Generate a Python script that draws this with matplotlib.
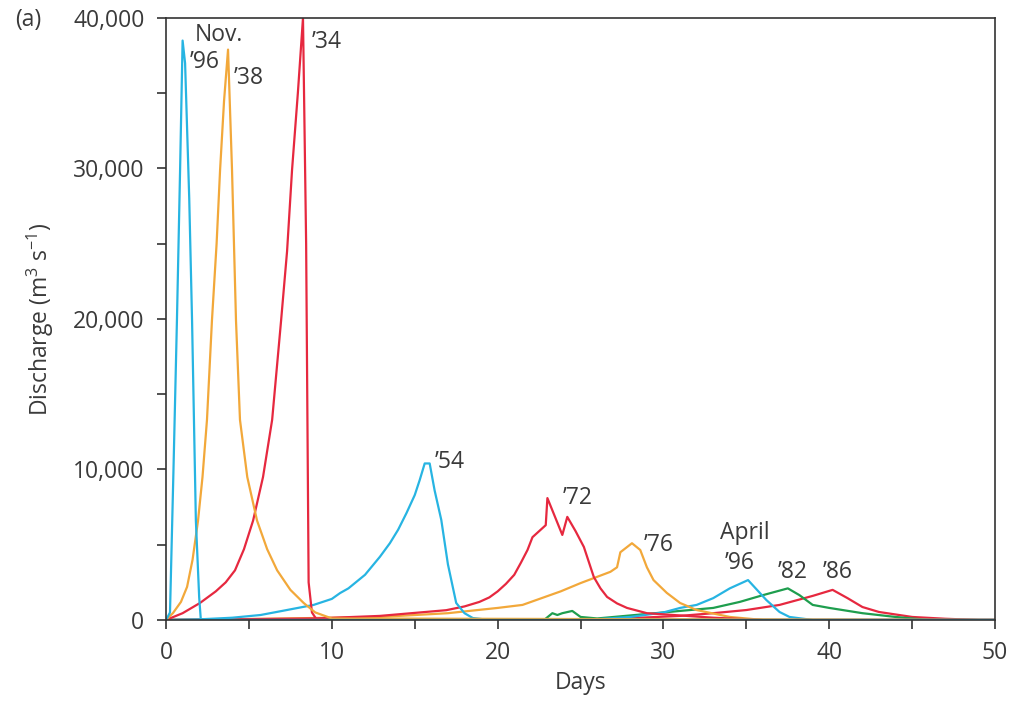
import matplotlib
matplotlib.use("Agg")
import matplotlib.pyplot as plt
from matplotlib.ticker import MultipleLocator, FuncFormatter

plt.rcParams['font.family'] = ['Open Sans', 'DejaVu Sans']
plt.rcParams['mathtext.default'] = 'regular'

# hydrographs: days, discharge (m3/s)
nov96_days = [0, 0.24, 0.45, 0.66, 0.85, 1.0, 1.15, 1.4, 1.57, 1.8, 2.0, 2.1, 50]
nov96_q = [0, 500, 10000, 20000, 30000, 38500, 37000, 28000, 19900, 6600, 1500, 0, 0]

y38_days = [0, 0.42, 0.9, 1.27, 1.6, 1.93, 2.2, 2.47, 2.77, 3.05, 3.26, 3.5, 3.74,
            3.98, 4.22, 4.46, 4.9, 5.49, 6.1, 6.7, 7.5, 8.3, 9, 10, 50]
y38_q = [0, 460, 1200, 2200, 4000, 6600, 9500, 13300, 19900, 25000, 29900, 34500, 37900,
         29900, 19900, 13300, 9500, 6600, 4700, 3300, 2000, 1130, 500, 100, 0]

y34_days = [0, 1, 2.05, 3, 3.6, 4.16, 4.7, 5.25, 5.85, 6.4, 6.94, 7.3, 7.6, 7.95, 8.26,
            8.45, 8.55, 8.6, 8.8, 9.1, 50]
y34_q = [0, 450, 1130, 1900, 2500, 3300, 4700, 6600, 9500, 13300, 19900, 24500, 29900, 35000, 40000,
         25000, 10000, 2500, 500, 0, 0]

y54_days = [0, 2, 4, 5.7, 7, 8.9, 10, 10.5, 11, 12, 12.9, 13.5, 14, 14.5, 15, 15.3, 15.6,
            15.9, 16.2, 16.6, 17.0, 17.5, 18.0, 18.5, 19.5, 50]
y54_q = [0, 40, 150, 330, 600, 1000, 1400, 1790, 2100, 3000, 4200, 5100, 6000, 7100, 8300,
         9300, 10400, 10400, 8600, 6650, 3700, 1130, 450, 130, 0, 0]

y72_days = [0, 9, 12.9, 16.9, 18.0, 18.9, 19.5, 20.0, 20.5, 21.0, 21.4, 21.8, 22.1, 22.9, 23.0,
            23.9, 24.2, 24.7, 25.2, 25.8, 26.2, 26.6, 27.2, 27.8, 29, 31, 33, 36, 50]
y72_q = [0, 100, 270, 650, 900, 1200, 1500, 1900, 2400, 3000, 3800, 4650, 5500, 6300, 8100,
         5650, 6850, 5900, 4850, 2850, 2100, 1530, 1100, 800, 450, 300, 150, 0, 0]

y76_days = [0, 6, 12.9, 17, 20, 21.5, 23.8, 25.0, 26.8, 27.2, 27.4, 28.1, 28.6, 29.0, 29.4,
            30.2, 31, 32, 34, 36, 50]
y76_q = [0, 80, 200, 450, 800, 1000, 1900, 2450, 3200, 3500, 4500, 5100, 4650, 3500, 2650,
         1800, 1130, 660, 200, 0, 0]

apr96_days = [0, 24, 26, 28, 30, 31, 32, 33, 34.0, 35.1, 36.2, 37, 37.6, 39, 50]
apr96_q = [0, 0, 50, 200, 500, 800, 1000, 1450, 2100, 2650, 1330, 530, 200, 0, 0]

y82_days = [0, 22.8, 23.3, 23.6, 23.9, 24.5, 25.0, 26, 28, 30, 31, 33, 34.6, 36, 37.5,
            38.2, 39.0, 40, 42, 44, 46, 50]
y82_q = [0, 0, 450, 330, 450, 600, 200, 100, 300, 500, 600, 800, 1200, 1650, 2100,
         1650, 1000, 800, 450, 200, 0, 0]

y86_days = [0, 25, 28, 31, 33, 35, 37, 39, 40.2, 41.1, 42, 43, 45, 47, 49, 50]
y86_q = [0, 0, 120, 270, 450, 660, 1000, 1600, 2000, 1450, 860, 530, 200, 80, 0, 0]

cyan = '#27b4e2'
orange = '#f2a83a'
red = '#e6283f'
green = '#1e9e4e'

series = [
    (y86_days, y86_q, red),
    (y82_days, y82_q, green),
    (apr96_days, apr96_q, cyan),
    (y76_days, y76_q, orange),
    (y72_days, y72_q, red),
    (y54_days, y54_q, cyan),
    (y34_days, y34_q, red),
    (y38_days, y38_q, orange),
    (nov96_days, nov96_q, cyan),
]

# labels: text, day, discharge
labels = [
    ("Nov.", 3.2, 38900),
    ("\u201996", 2.35, 37100),
    ("\u201938", 5.0, 36000),
    ("\u201934", 9.7, 38400),
    ("\u201954", 17.1, 10500),
    ("\u201972", 24.8, 8100),
    ("\u201976", 29.7, 5000),
    ("April", 34.9, 5800),
    ("\u201996", 34.6, 3800),
    ("\u201982", 37.8, 3200),
    ("\u201986", 40.5, 3200),
]

txt = '#3a3a3a'
fs = 16.5
fig = plt.figure(figsize=(10.28, 7.14), dpi=100)
ax = fig.add_axes([0.1615, 0.1317, 0.8065, 0.8431])

for d, q, c in series:
    ax.plot(d, q, color=c, lw=1.6, solid_joinstyle='round')

for s, x, y in labels:
    ax.text(x, y, s, fontsize=fs, color=txt, ha='center', va='center')

ax.set_xlim(0, 50)
ax.set_ylim(0, 40000)
ax.xaxis.set_major_locator(MultipleLocator(10))
ax.xaxis.set_minor_locator(MultipleLocator(5))
ax.yaxis.set_major_locator(MultipleLocator(10000))
ax.yaxis.set_minor_locator(MultipleLocator(5000))
ax.yaxis.set_major_formatter(FuncFormatter(lambda v, p: f"{int(v):,}"))
ax.tick_params(which='both', direction='out', length=6.5, width=1.2, color='#333333',
               labelsize=fs, labelcolor=txt, pad=9)
for sp in ax.spines.values():
    sp.set_color('#333333')
    sp.set_linewidth(1.2)

ax.set_xlabel("Days", fontsize=fs, color=txt, labelpad=4)
ax.set_ylabel("Discharge (m$^3$ s$^{-1}$)", fontsize=fs, color=txt, labelpad=12)
fig.text(0.027, 0.972, "(a)", fontsize=fs, color=txt, ha='center', va='center')

fig.savefig("out.png", dpi=100)
